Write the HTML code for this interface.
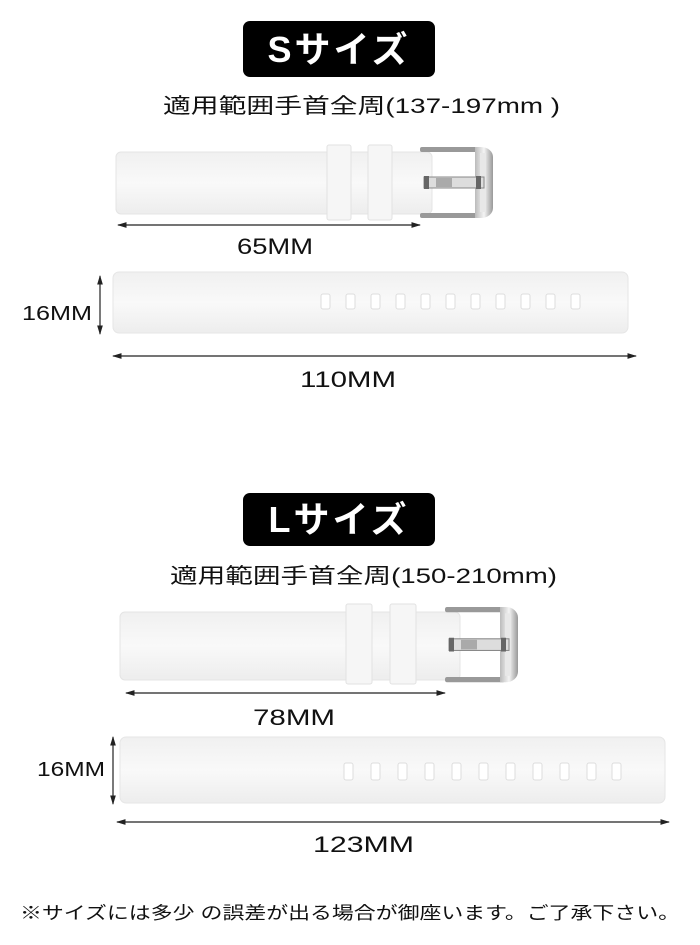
<!DOCTYPE html>
<html><head><meta charset="utf-8"><style>
html,body{margin:0;padding:0;background:#fff;}
svg{display:block}
text{font-family:"Liberation Sans","Noto Sans CJK JP",sans-serif;fill:#111}
</style></head><body>
<svg width="700" height="945" viewBox="0 0 700 945" xmlns="http://www.w3.org/2000/svg">
<defs>
<linearGradient id="st" x1="0" y1="0" x2="0" y2="1">
<stop offset="0" stop-color="#f0f0f0"/><stop offset="0.5" stop-color="#f9f9f9"/><stop offset="1" stop-color="#ededed"/></linearGradient>
<linearGradient id="mt" x1="0" y1="0" x2="1" y2="0">
<stop offset="0" stop-color="#bbb"/><stop offset="0.5" stop-color="#f4f4f4"/><stop offset="1" stop-color="#999"/></linearGradient>
<marker id="ah" viewBox="0 0 10 6" refX="9" refY="3" markerWidth="8" markerHeight="5" orient="auto-start-reverse"><path d="M0,0 L10,3 L0,6z" fill="#222"/></marker>
<g id="buckle">
<rect x="0" y="0" width="60" height="5" rx="2" fill="#999"/>
<rect x="0" y="66" width="60" height="5" rx="2" fill="#999"/>
<path d="M55,0 h6 a12,10 0 0 1 12,10 v51 a12,10 0 0 1 -12,10 h-6 z" fill="url(#mt)"/>
<rect x="60" y="6" width="6" height="59" fill="#e8e8e8"/>
<rect x="4" y="30" width="60" height="11" fill="#ddd" stroke="#888" stroke-width="1"/>
<rect x="4" y="29" width="5" height="13" fill="#666"/>
<rect x="56" y="29" width="5" height="13" fill="#666"/>
<rect x="16" y="31" width="16" height="9" fill="#aaa"/>
</g>
</defs>

<rect x="243" y="21" width="192" height="56" rx="7" fill="#000"/>
<text x="339" y="62" text-anchor="middle" font-size="36" font-weight="bold" style="fill:#fff" letter-spacing="3">Sサイズ</text>
<text x="163" y="113" font-size="21" textLength="397" lengthAdjust="spacingAndGlyphs">適用範囲手首全周(137-197mm )</text>

<rect x="116" y="152" width="316" height="62" rx="5" fill="url(#st)" stroke="#e4e4e4"/>
<rect x="327" y="145" width="24" height="75" rx="2" fill="#f6f6f6" stroke="#e2e2e2"/>
<rect x="368" y="145" width="24" height="75" rx="2" fill="#f6f6f6" stroke="#e2e2e2"/>
<use href="#buckle" transform="translate(420,147)"/>
<line x1="118" y1="225" x2="420" y2="225" stroke="#222" stroke-width="1.2" marker-start="url(#ah)" marker-end="url(#ah)"/>
<text x="237" y="254" font-size="22" textLength="76" lengthAdjust="spacingAndGlyphs">65MM</text>

<rect x="113" y="272" width="515" height="61" rx="6" fill="url(#st)" stroke="#e6e6e6"/>
<g fill="#fff" stroke="#ddd">
<rect x="321" y="294" width="9" height="15" rx="2"/><rect x="346" y="294" width="9" height="15" rx="2"/><rect x="371" y="294" width="9" height="15" rx="2"/><rect x="396" y="294" width="9" height="15" rx="2"/><rect x="421" y="294" width="9" height="15" rx="2"/><rect x="446" y="294" width="9" height="15" rx="2"/><rect x="471" y="294" width="9" height="15" rx="2"/><rect x="496" y="294" width="9" height="15" rx="2"/><rect x="521" y="294" width="9" height="15" rx="2"/><rect x="546" y="294" width="9" height="15" rx="2"/><rect x="571" y="294" width="9" height="15" rx="2"/>
</g>
<line x1="100" y1="276" x2="100" y2="334" stroke="#222" stroke-width="1.2" marker-start="url(#ah)" marker-end="url(#ah)"/>
<text x="22" y="320" font-size="20" textLength="70" lengthAdjust="spacingAndGlyphs">16MM</text>
<line x1="113" y1="356" x2="636" y2="356" stroke="#222" stroke-width="1.2" marker-start="url(#ah)" marker-end="url(#ah)"/>
<text x="300" y="387" font-size="22" textLength="96" lengthAdjust="spacingAndGlyphs">110MM</text>

<rect x="243" y="493" width="192" height="53" rx="7" fill="#000"/>
<text x="339" y="532" text-anchor="middle" font-size="36" font-weight="bold" style="fill:#fff" letter-spacing="3">Lサイズ</text>
<text x="170" y="583" font-size="21" textLength="387" lengthAdjust="spacingAndGlyphs">適用範囲手首全周(150-210mm)</text>

<rect x="120" y="612" width="340" height="68" rx="5" fill="url(#st)" stroke="#e4e4e4"/>
<rect x="346" y="604" width="26" height="80" rx="2" fill="#f6f6f6" stroke="#e2e2e2"/>
<rect x="390" y="604" width="26" height="80" rx="2" fill="#f6f6f6" stroke="#e2e2e2"/>
<use href="#buckle" transform="translate(445,607) scale(1,1.06)"/>
<line x1="126" y1="693" x2="445" y2="693" stroke="#222" stroke-width="1.2" marker-start="url(#ah)" marker-end="url(#ah)"/>
<text x="253" y="725" font-size="22" textLength="82" lengthAdjust="spacingAndGlyphs">78MM</text>

<rect x="120" y="737" width="545" height="66" rx="6" fill="url(#st)" stroke="#e6e6e6"/>
<g fill="#fff" stroke="#ddd">
<rect x="344" y="763" width="9" height="17" rx="2"/><rect x="371" y="763" width="9" height="17" rx="2"/><rect x="398" y="763" width="9" height="17" rx="2"/><rect x="425" y="763" width="9" height="17" rx="2"/><rect x="452" y="763" width="9" height="17" rx="2"/><rect x="479" y="763" width="9" height="17" rx="2"/><rect x="506" y="763" width="9" height="17" rx="2"/><rect x="533" y="763" width="9" height="17" rx="2"/><rect x="560" y="763" width="9" height="17" rx="2"/><rect x="587" y="763" width="9" height="17" rx="2"/><rect x="612" y="763" width="9" height="17" rx="2"/>
</g>
<line x1="113" y1="737" x2="113" y2="804" stroke="#222" stroke-width="1.2" marker-start="url(#ah)" marker-end="url(#ah)"/>
<text x="37" y="776" font-size="20" textLength="68" lengthAdjust="spacingAndGlyphs">16MM</text>
<line x1="117" y1="822" x2="669" y2="822" stroke="#222" stroke-width="1.2" marker-start="url(#ah)" marker-end="url(#ah)"/>
<text x="313" y="852" font-size="22" textLength="101" lengthAdjust="spacingAndGlyphs">123MM</text>

<text x="350" y="919" text-anchor="middle" font-size="17.5" textLength="660" lengthAdjust="spacingAndGlyphs">※サイズには多少 の誤差が出る場合が御座います。ご了承下さい。</text>
</svg>
</body></html>
